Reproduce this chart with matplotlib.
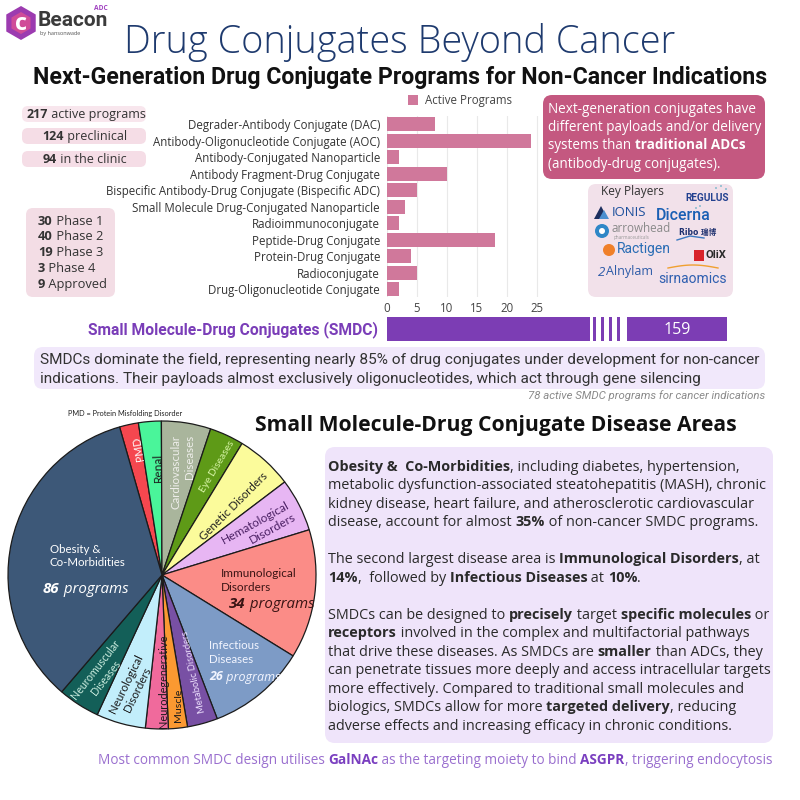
import matplotlib
matplotlib.use('Agg')
import matplotlib.pyplot as plt
from matplotlib.patches import FancyBboxPatch, Rectangle, RegularPolygon, Circle, Polygon
import numpy as np

# ---------------- data ----------------
bar_categories = ["Degrader-Antibody Conjugate (DAC)",
                  "Antibody-Oligonucleotide Conjugate (AOC)",
                  "Antibody-Conjugated Nanoparticle",
                  "Antibody Fragment-Drug Conjugate",
                  "Bispecific Antibody-Drug Conjugate (Bispecific ADC)",
                  "Small Molecule Drug-Conjugated Nanoparticle",
                  "Radioimmunoconjugate",
                  "Peptide-Drug Conjugate",
                  "Protein-Drug Conjugate",
                  "Radioconjugate",
                  "Drug-Oligonucleotide Conjugate"]
bar_values = [8, 24, 2, 10, 5, 3, 2, 18, 4, 5, 2]
bar_ticks = [0, 5, 10, 15, 20, 25]
bar_legend = "Active Programs"

smdc_label = "Small Molecule-Drug Conjugates (SMDC)"
smdc_value = 159

pipeline_counts = ["217", "124", "94"]
pipeline_labels = [" active programs", " preclinical", " in the clinic"]
phase_counts = ["30", "40", "19", "3", "9"]
phase_labels = [" Phase 1", " Phase 2", " Phase 3", " Phase 4", " Approved"]

pie_labels = ["PMD", "Renal", "Cardiovascular\nDiseases", "Eye Diseases",
              "Genetic Disorders", "Hematological\nDisorders",
              "Immunological\nDisorders", "Infectious\nDiseases",
              "Metabolic Disorders", "Muscle", "Neurodegenerative",
              "Neurological\nDisorders", "Neuromuscular\nDiseases",
              "Obesity &\nCo-Morbidities"]
pie_values = [5, 6, 13, 9, 15, 14, 34, 26, 8, 5, 6, 13, 11, 86]
pie_colors = ['#f5474f', '#4af59a', '#a9b59c', '#5e9a17', '#fbfb9b', '#e7b6f3',
              '#fb8c87', '#7d9bc6', '#7850a4', '#fb9931', '#f06a9c', '#c2eefb',
              '#135f58', '#3d5878']

BODY = ['Open Sans', 'DejaVu Sans']
COND = ['Roboto', 'DejaVu Sans']
PIEF = ['Lato', 'DejaVu Sans']

fig = plt.figure(figsize=(8, 8), dpi=100)
fig.patch.set_facecolor('white')
bg = fig.add_axes([0, 0, 1, 1], zorder=0)
bg.set_xlim(0, 800); bg.set_ylim(800, 0); bg.axis('off')
renderer = fig.canvas.get_renderer()


def P(x, y, w, h):
    return [x / 800, 1 - (y + h) / 800, w / 800, h / 800]


def S(t, b=False, i=False, c=None):
    return (t, 'bold' if b else 'normal', 'italic' if i else 'normal', c)


def seg_width(s, size, family=BODY, weight='normal', style='normal'):
    kw = dict(fontsize=size, family=family, fontweight=weight, fontstyle=style)
    a = bg.text(0, 0, '|' + s + '|', **kw)
    b = bg.text(0, 0, '||', **kw)
    w = a.get_window_extent(renderer).width - b.get_window_extent(renderer).width
    a.remove(); b.remove()
    return w


def fit(segs, target, family=BODY):
    w = sum(seg_width(s[0], 10, family, s[1], s[2]) for s in segs)
    return 10 * target / w


def rich(x, yc, segs, size, color='#222222', family=BODY, ha='left', ax=None, zorder=5):
    ax = ax or bg
    ws = [seg_width(s[0], size, family, s[1], s[2]) for s in segs]
    tot = sum(ws)
    x0 = x - tot / 2 if ha == 'center' else (x - tot if ha == 'right' else x)
    yb = yc + 0.36 * size * 100 / 72
    for (s, wt, st, c), w in zip(segs, ws):
        ax.text(x0, yb, s, fontsize=size, family=family, fontweight=wt, fontstyle=st,
                color=c or color, ha='left', va='baseline', transform=bg.transData,
                zorder=zorder, clip_on=False)
        x0 += w
    return tot


def rbox(x, y, w, h, color, r=8, z=1):
    bg.add_patch(FancyBboxPatch((x + r, y + r), w - 2 * r, h - 2 * r,
                                boxstyle=f"round,pad={r}", fc=color, ec='none', zorder=z))


# ---------------- header ----------------
bg.add_patch(RegularPolygon((21, 23), 6, radius=17, orientation=0, fc='#9c3bb0', ec='none', zorder=2))
bg.add_patch(RegularPolygon((21, 23), 6, radius=11, orientation=0, fc='#d04c98', ec='none', zorder=2))
bg.text(21, 24, 'c', fontsize=17, fontweight='bold', color='white', ha='center', va='center',
        family=BODY, zorder=3)
bg.text(38, 21, 'Beacon', fontsize=15, fontweight='bold', color='#3b3b3b', family=COND,
        ha='left', va='center', zorder=3)
bg.text(101, 9, 'ADC', fontsize=4.8, fontweight='bold', color='#a040c0', family=BODY,
        ha='center', va='center')
bg.text(40, 34, 'by hansonwade', fontsize=4, color='#555555', family=BODY, ha='left', va='center')

t1 = [S("Drug Conjugates Beyond Cancer")]
sz = fit(t1, 571, BODY)
bg.text(400, 42, t1[0][0], fontsize=sz, family=BODY, fontweight='light', color='#1e3a6e',
        ha='center', va='center')

t2 = [S("Next-Generation Drug Conjugate Programs for Non-Cancer Indications", b=True)]
sz = fit(t2, 735, COND)
rich(400, 76, t2, sz, color='#111111', family=COND, ha='center')

# ---------------- pipeline pills ----------------
pill_y = [114, 136, 159]
for k, (cnt, lab) in enumerate(zip(pipeline_counts, pipeline_labels)):
    rbox(22, pill_y[k] - 8, 124, 16, '#f5dde6' if k else '#f8e6ed', r=6)
    segs = [S(cnt, b=True), S(lab)]
    szp = fit([S("217", b=True), S(" active programs")], 118)
    if k == 0:
        rich(27, pill_y[k], segs, szp, color='#333333')
    else:
        rich(85, pill_y[k], segs, szp, color='#333333', ha='center')

rbox(26, 208, 89, 89, '#f3dde5', r=7)
szph = fit([S("40", b=True), S(" Phase 2")], 65)
for k, (cnt, lab) in enumerate(zip(phase_counts, phase_labels)):
    rich(38, 220 + k * 15.8, [S(cnt, b=True), S(lab)], szph, color='#333333')

# ---------------- bar chart ----------------
axb = fig.add_axes(P(387, 116, 156, 181.5), zorder=2)
ypos = np.arange(len(bar_categories))
axb.barh(ypos, bar_values, height=0.85, color='#d0789b', zorder=2)
axb.set_ylim(len(ypos) - 0.5, -0.5)
axb.set_xlim(0, 26)
axb.set_xticks(bar_ticks)
lab_sz = fit([S("Antibody-Oligonucleotide Conjugate (AOC)")], 228)
axb.set_yticks(ypos, bar_categories, fontsize=lab_sz, family=BODY, color='#333333')
axb.set_xticklabels([str(v) for v in bar_ticks], fontsize=lab_sz, family=BODY, color='#444444')
axb.grid(axis='x', color='#e9e9e9', lw=0.8, zorder=0)
axb.set_axisbelow(True)
axb.tick_params(length=0, pad=5)
axb.tick_params(axis='x', pad=3)
for sp in axb.spines.values():
    sp.set_visible(False)
axb.patch.set_alpha(0)

bg.add_patch(Rectangle((408, 95), 10, 10, fc='#d0789b', ec='none'))
rich(425, 100, [S(bar_legend)], lab_sz, color='#444444')

# right rose box
rbox(543, 95, 222, 84, '#c45880', r=9)
rl = [[S("Next-generation conjugates have")],
      [S("different payloads and/or delivery")],
      [S("systems than "), S("traditional ADCs", b=True)],
      [S("(antibody-drug conjugates).")]]
szr = fit(rl[1], 214)
for k, line in enumerate(rl):
    rich(548, 108 + k * 18.3, line, szr, color='white')

# key players box
rbox(588, 184, 145, 113, '#f2e1ea', r=8)
rich(601, 191, [S("Key Players")], 8.6, color='#333333')
bg.text(707, 198, 'REGULUS', fontsize=7.2, fontweight='bold', color='#22408f', family=COND,
        ha='center', va='center')
for (dx, dy) in [(716, 188), (721, 186), (726, 189), (700, 206), (696, 208)]:
    bg.add_patch(Circle((dx, dy), 0.9, fc='#6fb5c8', ec='none'))
bg.add_patch(Polygon([[594, 219], [601, 206], [608, 219]], closed=True, fc='#1d2f5e', ec='none'))
bg.add_patch(Polygon([[599, 219], [604, 210], [609, 219]], closed=True, fc='#4b8fd0', ec='none'))
bg.text(612, 212, 'IONIS', fontsize=9.5, color='#1c4f9c', family=BODY, ha='left', va='center')
bg.text(656, 215, 'Dicerna', fontsize=11.5, color='#1a5fb4', family=COND, ha='left', va='center',
        fontweight='medium')
bg.add_patch(Circle((602, 231), 7, fc='#2f87c7', ec='none'))
bg.add_patch(Circle((602, 231), 3, fc='white', ec='none'))
bg.text(612, 228, 'arrowhead', fontsize=8.4, color='#8a8a8a', family=BODY, ha='left', va='center')
bg.text(614, 237, 'pharmaceuticals', fontsize=3.3, color='#999999', family=BODY, ha='left', va='center')
bg.text(679, 232, 'Ribo 瑞博', fontsize=5.5, fontweight='bold', color='#1d2f6e',
        family=['DejaVu Sans', 'Noto Sans CJK SC'], ha='left', va='center')
bg.plot([677, 690, 704], [240, 236, 238], color='#3a78c0', lw=1)
bg.add_patch(Circle((609, 250), 6, fc='#f0802a', ec='none'))
bg.text(617, 249, 'Ractigen', fontsize=10, color='#2a6db5', family=COND, ha='left', va='center')
bg.add_patch(Rectangle((694, 250), 10, 11, fc='#d8232a', ec='none'))
bg.text(705, 255, 'OliX', fontsize=8, fontweight='bold', color='#2a2a2a', family=COND,
        ha='left', va='center')
bg.text(598, 272, '2', fontsize=9.5, fontstyle='italic', color='#2d5ba8', family=BODY,
        ha='left', va='center')
bg.text(606, 272, 'Alnylam', fontsize=9, color='#2d5ba8', family=BODY, ha='left', va='center')
bg.text(693, 279, 'sirnaomics', fontsize=10, color='#2f5fb0', family=COND, ha='center', va='center')
bg.plot(np.linspace(668, 718, 20), 268 - 3 * np.sin(np.linspace(0, np.pi, 20)), color='#f0a030', lw=1)

# ---------------- SMDC row ----------------
szs = fit([S(smdc_label, b=True)], 291, COND)
rich(378, 329, [S(smdc_label, b=True)], szs, color='#7a3db8', family=COND, ha='right')
SM = '#7c3db4'
axl = fig.add_axes(P(387, 317, 203, 24), zorder=2)
axl.barh([0], [smdc_value], height=1.0, color=SM)
axl.set_xlim(0, 203 / 6); axl.set_ylim(-0.5, 0.5); axl.axis('off')
axr = fig.add_axes(P(627, 317, 100, 24), zorder=2)
axr.barh([0], [smdc_value], height=1.0, color=SM)
axr.set_xlim(smdc_value - 100 / 6, smdc_value); axr.set_ylim(-0.5, 0.5); axr.axis('off')
axr.text(0.5, 0.47, str(smdc_value), transform=axr.transAxes, ha='center', va='center',
         color='white', fontsize=11.5, family=BODY)
for sx in [593, 601, 609, 617]:
    bg.add_patch(Rectangle((sx, 317), 3, 24, fc=SM, ec='none'))

rbox(34, 347, 731, 42, '#f1e8fb', r=9)
l1 = [S("SMDCs dominate the field, representing nearly 85% of drug conjugates under development for non-cancer")]
l2 = [S("indications. Their payloads almost exclusively oligonucleotides, which act through gene silencing")]
szl = fit(l1, 722, COND)
rich(40, 358, l1, szl, color='#333333', family=COND)
rich(40, 377, l2, szl, color='#333333', family=COND)
rich(765, 395, [S("78 active SMDC programs for cancer indications", i=True)], 8.2,
     color='#8a8a8a', family=COND, ha='right')

# ---------------- pie ----------------
rich(68, 413, [S("PMD = Protein Misfolding Disorder")], 5.3, color='#222222', family=PIEF)
szh = fit([S("Small Molecule-Drug Conjugate Disease Areas", b=True)], 481)
rich(496, 423, [S("Small Molecule-Drug Conjugate Disease Areas", b=True)], szh,
     color='#111111', ha='center')

CX, CY, R = 162, 575, 154
axp = fig.add_axes(P(CX - R - 3, CY - R - 3, 2 * R + 6, 2 * R + 6), zorder=2)
axp.pie(pie_values, colors=pie_colors, startangle=106, counterclock=False, radius=1,
        wedgeprops=dict(edgecolor='#1b1b1b', linewidth=0.9))
lim = (R + 3) / R
axp.set_xlim(-lim, lim); axp.set_ylim(-lim, lim); axp.set_aspect('equal')
axp.axis('off')

# label placement: pixel centre, rotation, colour, longest-line length (px), alignment
lab_cfg = {
    "PMD": (138, 449, 100, 'white', 24, 'center', 'center'),
    "Renal": (158, 468, 92, '#1a1a1a', 29, 'center', 'center'),
    "Cardiovascular\nDiseases": (183, 472, 90, '#eeeeea', 75, 'center', 'right'),
    "Eye Diseases": (217, 467, 59, '#d8f5a8', 59, 'center', 'center'),
    "Genetic Disorders": (234, 506, 45, '#222222', 92, 'center', 'center'),
    "Hematological\nDisorders": (259, 529, 29, '#4a1f63', 76, 'center', 'right'),
    "Immunological\nDisorders": (221, 580.5, 0, '#3a1414', 75, 'left', 'left'),
    "Infectious\nDiseases": (209, 652.5, 0, '#f2f5ff', 50, 'left', 'left'),
    "Metabolic Disorders": (194, 672, 102, '#efe2ff', 84, 'center', 'center'),
    "Muscle": (179, 705, 90, '#1a1a1a', 33, 'center', 'center'),
    "Neurodegenerative": (163, 681, 90, '#1a1a1a', 93, 'center', 'center'),
    "Neurological\nDisorders": (132, 687, 64, '#1a1a1a', 64, 'center', 'center'),
    "Neuromuscular\nDiseases": (101, 674, 52, '#cdeee0', 72, 'center', 'center'),
    "Obesity &\nCo-Morbidities": (50, 556, 0, 'white', 77, 'left', 'left'),
}
for lab in pie_labels:
    px, py, rot, col, tlen, ha, ma = lab_cfg[lab]
    longest = max(lab.split('\n'), key=lambda s: seg_width(s, 10, PIEF))
    fs = fit([S(longest)], tlen, PIEF)
    axp.text(px, py, lab, transform=bg.transData, rotation=rot, rotation_mode='anchor',
             ha=ha, va='center', color=col, fontsize=fs, family=PIEF, linespacing=1.25,
             multialignment=ma, zorder=5)

prog = " programs"
rich(43, 588, [S("86", b=True, i=True), S(prog, i=True)], 10.8, color='white', family=BODY, ax=axp)
rich(229, 603, [S("34", b=True, i=True), S(prog, i=True)], 10.8, color='#3a1414', family=BODY, ax=axp)
rich(209, 676, [S("26", b=True, i=True), S(prog, i=True)], 9, color='#f2f5ff', family=BODY, ax=axp)

# ---------------- big text box ----------------
rbox(325, 447, 448, 296, '#efe4fa', r=10)
paras = [
    [S("Obesity &  Co-Morbidities", b=True), S(", including diabetes, hypertension,")],
    [S("metabolic dysfunction-associated steatohepatitis (MASH), chronic")],
    [S("kidney disease, heart failure, and atherosclerotic cardiovascular")],
    [S("disease, account for almost "), S("35%", b=True), S(" of non-cancer SMDC programs.")],
    None,
    [S("The second largest disease area is "), S("Immunological Disorders", b=True), S(", at")],
    [S("14%", b=True), S(",  followed by "), S("Infectious Diseases", b=True), S(" at "),
     S("10%", b=True), S(".")],
    None,
    [S("SMDCs can be designed to "), S("precisely", b=True), S(" target "),
     S("specific molecules", b=True), S(" or")],
    [S("receptors", b=True), S(" involved in the complex and multifactorial pathways")],
    [S("that drive these diseases. As SMDCs are "), S("smaller", b=True), S(" than ADCs, they")],
    [S("can penetrate tissues more deeply and access intracellular targets")],
    [S("more effectively. Compared to traditional small molecules and")],
    [S("biologics, SMDCs allow for more "), S("targeted delivery", b=True), S(", reducing")],
    [S("adverse effects and increasing efficacy in chronic conditions.")],
]
szb = fit(paras[1], 439)
yy = 465.5
for line in paras:
    if line is None:
        yy += 18.5
        continue
    rich(328, yy, line, szb, color='#2a2a2a')
    yy += 18.5

bl = [S("Most common SMDC design utilises ", c='#9a6fcf'), S("GalNAc", b=True, c='#7a3fc0'),
      S(" as the targeting moiety to bind ", c='#9a6fcf'), S("ASGPR", b=True, c='#7a3fc0'),
      S(", triggering endocytosis", c='#9a6fcf')]
szbl = fit(bl, 674)
rich(435, 759, bl, szbl, ha='center')

fig.savefig('out.png', dpi=100, facecolor='white')
